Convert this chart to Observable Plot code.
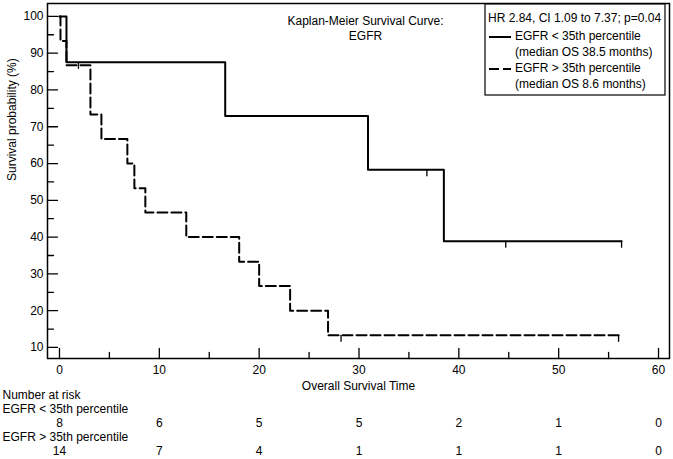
<!DOCTYPE html>
<html><head><meta charset="utf-8">
<script src="https://cdn.jsdelivr.net/npm/d3@7"></script>
<script src="https://cdn.jsdelivr.net/npm/@observablehq/plot@0.6"></script>
<style>body{margin:0;background:#fff} svg{display:block}</style>
</head><body><div id="chart"></div>
<script>
// ---- data ----
const lowName = "EGFR < 35th percentile";
const highName = "EGFR > 35th percentile";
const lowTimes = [0, 0.7, 16.6, 30.9, 38.5, 56.3];
const lowSurv  = [100, 87.5, 72.9, 58.3, 38.9, 38.9];
const lowCensorTimes = [1.9, 36.8, 44.7, 56.3];
const lowCensorSurv  = [87.5, 58.3, 38.9, 38.9];
const highTimes = [0, 0.1, 0.7, 3.1, 4.2, 6.8, 7.5, 8.6, 12.7, 18.0, 20.0, 23.1, 26.9, 56.0];
const highSurv  = [100, 93.3, 86.7, 73.3, 66.7, 60, 53.3, 46.7, 40, 33.3, 26.7, 20, 13.3, 13.3];
const highCensorTimes = [28.2, 56.0];
const highCensorSurv  = [13.3, 13.3];
const riskTimes = [0, 10, 20, 30, 40, 50, 60];
const riskLow  = [8, 6, 5, 5, 2, 1, 0];
const riskHigh = [14, 7, 4, 1, 1, 1, 0];
const xTicks = [0, 10, 20, 30, 40, 50, 60];
const xMinor = [5, 15, 25, 35, 45, 55];
const yTicks = [10, 20, 30, 40, 50, 60, 70, 80, 90, 100];
const yMinor = [15, 25, 35, 45, 55, 65, 75, 85, 95];
const titleLines = ["Kaplan-Meier Survival Curve:", "EGFR"];
const legendHeader = "HR 2.84, CI 1.09 to 7.37; p=0.04";
const legendLow = ["EGFR < 35th percentile", "(median OS 38.5 months)"];
const legendHigh = ["EGFR > 35th percentile", "(median OS 8.6 months)"];

const lowData = lowTimes.map((t, i) => ({t, s: lowSurv[i]}));
const highData = highTimes.map((t, i) => ({t, s: highSurv[i]}));
const lowCens = lowCensorTimes.map((t, i) => ({t, s: lowCensorSurv[i]}));
const highCens = highCensorTimes.map((t, i) => ({t, s: highCensorSurv[i]}));

const seg = {draw(ctx, l) { ctx.moveTo(0, 0); ctx.lineTo(0, -l); }};
const FONT = "Liberation Sans, Arial, Helvetica, sans-serif";

const chart = Plot.plot({
  width: 673, height: 459,
  marginLeft: 47, marginRight: 4, marginTop: 3, marginBottom: 101,
  style: {fontFamily: FONT, fontSize: "12px", color: "black", background: "white"},
  x: {domain: [-1.2, 61.1]},
  y: {domain: [7.0, 103.5]},
  marks: [
    Plot.frame({stroke: "black", strokeWidth: 1.5}),
    Plot.axisX({ticks: xTicks, tickSize: 0, tickPadding: 7, label: null, fill: "black"}),
    Plot.axisY({ticks: yTicks, tickSize: 0, tickPadding: 4, label: null, fill: "black"}),
    // inward tick marks
    Plot.vector(xTicks, {x: d => d, frameAnchor: "bottom", length: 10, anchor: "start", shape: seg, stroke: "black", strokeWidth: 1.3}),
    Plot.vector(xMinor, {x: d => d, frameAnchor: "bottom", length: 6, anchor: "start", shape: seg, stroke: "black", strokeWidth: 1.3}),
    Plot.vector(yTicks, {y: d => d, frameAnchor: "left", length: 10, rotate: 90, anchor: "start", shape: seg, stroke: "black", strokeWidth: 1.3}),
    Plot.vector(yMinor, {y: d => d, frameAnchor: "left", length: 6, rotate: 90, anchor: "start", shape: seg, stroke: "black", strokeWidth: 1.3}),
    // curves
    Plot.line(lowData, {x: "t", y: "s", curve: "step-after", stroke: "black", strokeWidth: 2}),
    Plot.line(highData, {x: "t", y: "s", curve: "step-after", stroke: "black", strokeWidth: 2, strokeDasharray: "10,4"}),
    Plot.vector(lowCens, {x: "t", y: "s", length: 6, rotate: 180, anchor: "start", shape: seg, stroke: "black", strokeWidth: 1.3}),
    Plot.vector(highCens, {x: "t", y: "s", length: 6, rotate: 180, anchor: "start", shape: seg, stroke: "black", strokeWidth: 1.3}),
    // axis labels
    Plot.text(["Overall Survival Time"], {frameAnchor: "bottom", dy: 31, text: d => d, fill: "black"}),
    Plot.text(["Survival probability (%)"], {frameAnchor: "left", dx: -35, rotate: -90, text: d => d, fill: "black"}),
    // number at risk
    Plot.text(["Number at risk"], {frameAnchor: "bottom-left", dx: -45, dy: 40, textAnchor: "start", text: d => d, fill: "black"}),
    Plot.text([lowName], {frameAnchor: "bottom-left", dx: -45, dy: 54, textAnchor: "start", text: d => d, fill: "black"}),
    Plot.text(riskTimes, {x: d => d, frameAnchor: "bottom", dy: 68, text: (d, i) => String(riskLow[i]), fill: "black"}),
    Plot.text([highName], {frameAnchor: "bottom-left", dx: -45, dy: 82, textAnchor: "start", text: d => d, fill: "black"}),
    Plot.text(riskTimes, {x: d => d, frameAnchor: "bottom", dy: 96, text: (d, i) => String(riskHigh[i]), fill: "black"}),
    // title (centred lines)
    Plot.text([titleLines[0]], {frameAnchor: "top-left", dx: 318, dy: 13, textAnchor: "middle", text: d => d, fill: "black"}),
    Plot.text([titleLines[1]], {frameAnchor: "top-left", dx: 318, dy: 28, textAnchor: "middle", text: d => d, fill: "black"})
  ]
});
document.getElementById("chart").appendChild(chart);

// legend box
const svg = d3.select(chart);
const g = svg.append("g").attr("font-family", FONT).attr("font-size", 12).attr("fill", "black").attr("text-anchor", "start");
g.append("rect").attr("x", 485).attr("y", 4).attr("width", 180).attr("height", 91)
  .attr("fill", "white").attr("stroke", "black").attr("stroke-width", 1.2);
g.append("text").attr("x", 488).attr("y", 22).text(legendHeader);
g.append("line").attr("x1", 489).attr("x2", 511).attr("y1", 37).attr("y2", 37).attr("stroke", "black").attr("stroke-width", 2);
g.append("text").attr("x", 515).attr("y", 40).text(legendLow[0]);
g.append("text").attr("x", 515).attr("y", 56).text(legendLow[1]);
g.append("line").attr("x1", 489).attr("x2", 511).attr("y1", 69).attr("y2", 69).attr("stroke", "black").attr("stroke-width", 2).attr("stroke-dasharray", "10,4");
g.append("text").attr("x", 515).attr("y", 72).text(legendHigh[0]);
g.append("text").attr("x", 515).attr("y", 88).text(legendHigh[1]);
</script>
</body></html>
